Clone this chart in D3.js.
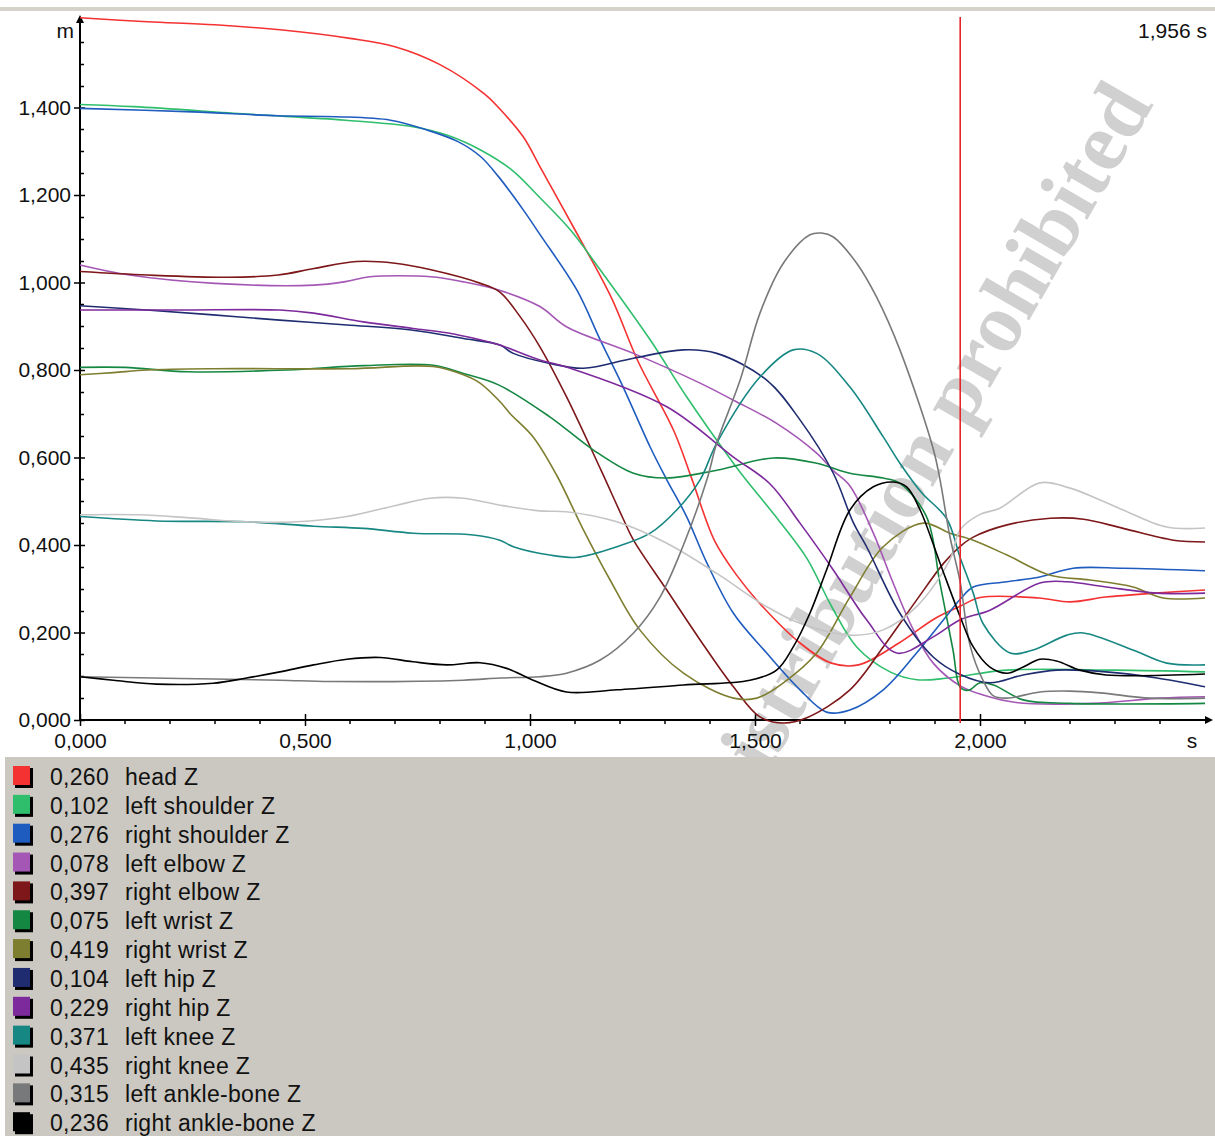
<!DOCTYPE html>
<html>
<head>
<meta charset="utf-8">
<script src="https://cdn.jsdelivr.net/npm/d3@7"></script>
<style>
body { margin: 0; background: #fff; }
svg { display: block; }
.tick text { font-family: "Liberation Sans", Arial, sans-serif; font-size: 21px; fill: #111; }
.tick line { stroke: #000; stroke-width: 1.5; }
.legend-text { font-family: "Liberation Sans", Arial, sans-serif; font-size: 23px; fill: #111; letter-spacing: 0.3px; }
</style>
</head>
<body>
<svg width="1215" height="1136"></svg>
<script>
var svg = d3.select("svg"),
    width = +svg.attr("width"),
    height = +svg.attr("height");

// series names, colours and value at the cursor (legend)
var seriesNames = ["head Z", "left shoulder Z", "right shoulder Z", "left elbow Z", "right elbow Z",
    "left wrist Z", "right wrist Z", "left hip Z", "right hip Z", "left knee Z", "right knee Z",
    "left ankle-bone Z", "right ankle-bone Z"];
var seriesColors = ["#f43232", "#2fbf6c", "#1f5cbf", "#a457b4", "#7d1719", "#148842", "#7e7e30",
    "#1f2c70", "#7d2a9c", "#168782", "#c4c4c4", "#78797b", "#000000"];
var cursorValues = [0.260, 0.102, 0.276, 0.078, 0.397, 0.075, 0.419, 0.104, 0.229, 0.371, 0.435, 0.315, 0.236];
var cursorTime = 1.956;

var yTicks = [0, 0.2, 0.4, 0.6, 0.8, 1.0, 1.2, 1.4];
var xTicks = [0, 0.5, 1.0, 1.5, 2.0];

// [time s, height m]
var headZ = [[0,1.605],[0.15,1.596],[0.3,1.589],[0.45,1.577],[0.6,1.558],[0.7,1.539],[0.8,1.498],[0.9,1.43],
    [0.93,1.40],[0.985,1.333],[1.022,1.265],[1.1,1.12],[1.18,0.967],[1.24,0.82],[1.32,0.66],[1.36,0.55],[1.41,0.41],
    [1.46,0.33],[1.51,0.267],[1.6,0.176],[1.67,0.13],[1.73,0.126],[1.82,0.176],[1.9,0.232],[1.956,0.26],
    [2.0,0.28],[2.13,0.279],[2.2,0.27],[2.28,0.281],[2.39,0.29],[2.5,0.297]];
var leftShoulderZ = [[0,1.407],[0.12,1.402],[0.37,1.385],[0.59,1.371],[0.74,1.356],[0.815,1.337],[0.89,1.303],
    [0.96,1.257],[1.02,1.196],[1.09,1.12],[1.156,1.029],[1.267,0.869],[1.348,0.739],[1.452,0.587],[1.48,0.549],
    [1.55,0.46],[1.615,0.37],[1.67,0.26],[1.726,0.167],[1.8,0.11],[1.86,0.092],[1.93,0.096],[2.06,0.114],
    [2.3,0.114],[2.5,0.11]];
var rightShoulderZ = [[0,1.398],[0.25,1.39],[0.44,1.381],[0.57,1.379],[0.69,1.371],[0.77,1.349],[0.84,1.322],
    [0.89,1.288],[0.93,1.242],[0.985,1.166],[1.022,1.11],[1.104,0.983],[1.156,0.869],[1.207,0.761],[1.267,0.624],
    [1.304,0.549],[1.348,0.465],[1.393,0.359],[1.452,0.244],[1.526,0.153],[1.6,0.069],[1.659,0.018],[1.711,0.023],
    [1.785,0.069],[1.859,0.153],[1.919,0.229],[1.956,0.276],[1.985,0.304],[2.06,0.316],[2.133,0.327],[2.207,0.347],
    [2.318,0.347],[2.5,0.341]];
var leftElbowZ = [[0,1.04],[0.11,1.017],[0.3,0.998],[0.52,0.994],[0.59,1.002],[0.644,1.013],[0.78,1.013],[0.85,1.002],
    [0.93,0.983],[1.022,0.945],[1.081,0.899],[1.23,0.838],[1.378,0.77],[1.452,0.731],[1.548,0.678],[1.637,0.61],
    [1.674,0.57],[1.711,0.535],[1.763,0.427],[1.807,0.313],[1.852,0.206],[1.896,0.13],[1.956,0.078],[2.007,0.057],
    [2.08,0.04],[2.25,0.038],[2.4,0.05],[2.5,0.053]];
var rightElbowZ = [[0,1.025],[0.15,1.017],[0.33,1.012],[0.44,1.017],[0.52,1.032],[0.615,1.048],[0.7,1.044],[0.78,1.029],
    [0.89,0.998],[0.933,0.978],[0.978,0.922],[1.022,0.853],[1.081,0.739],[1.156,0.575],[1.207,0.46],[1.23,0.411],
    [1.304,0.297],[1.378,0.183],[1.452,0.076],[1.511,0.007],[1.563,-0.007],[1.615,0.005],[1.711,0.069],[1.785,0.167],
    [1.859,0.274],[1.919,0.358],[1.956,0.397],[1.985,0.418],[2.06,0.446],[2.156,0.461],[2.23,0.459],[2.318,0.438],
    [2.43,0.411],[2.5,0.407]];
var leftWristZ = [[0,0.806],[0.1,0.806],[0.24,0.796],[0.46,0.8],[0.63,0.81],[0.785,0.811],[0.852,0.792],[0.93,0.766],
    [1.044,0.693],[1.141,0.617],[1.23,0.564],[1.304,0.553],[1.415,0.571],[1.541,0.599],[1.637,0.587],[1.711,0.564],
    [1.785,0.553],[1.822,0.541],[1.881,0.465],[1.911,0.313],[1.94,0.16],[1.956,0.075],[1.975,0.068],[2.0,0.085],
    [2.03,0.08],[2.096,0.046],[2.2,0.038],[2.5,0.038]];
var rightWristZ = [[0,0.789],[0.074,0.794],[0.15,0.8],[0.3,0.803],[0.6,0.803],[0.785,0.808],[0.852,0.789],[0.889,0.77],
    [0.933,0.728],[0.956,0.7],[1.007,0.647],[1.059,0.56],[1.119,0.434],[1.178,0.32],[1.244,0.206],[1.341,0.107],
    [1.452,0.05],[1.504,0.05],[1.563,0.085],[1.637,0.153],[1.711,0.281],[1.785,0.396],[1.874,0.45],[1.933,0.427],
    [1.985,0.411],[2.06,0.377],[2.156,0.331],[2.244,0.32],[2.34,0.304],[2.407,0.279],[2.5,0.279]];
var leftHipZ = [[0,0.947],[0.148,0.937],[0.296,0.926],[0.444,0.914],[0.593,0.903],[0.74,0.891],[0.852,0.872],[0.933,0.857],
    [0.963,0.838],[1.044,0.815],[1.119,0.804],[1.23,0.827],[1.341,0.846],[1.415,0.838],[1.526,0.777],[1.6,0.686],
    [1.674,0.564],[1.719,0.45],[1.748,0.396],[1.822,0.244],[1.896,0.144],[1.956,0.104],[2.022,0.085],[2.096,0.103],
    [2.17,0.114],[2.28,0.11],[2.393,0.096],[2.5,0.076]];
var rightHipZ = [[0,0.937],[0.22,0.937],[0.444,0.937],[0.519,0.93],[0.63,0.91],[0.74,0.895],[0.815,0.885],[0.889,0.869],
    [0.933,0.857],[1.022,0.823],[1.081,0.807],[1.304,0.716],[1.452,0.601],[1.533,0.54],[1.6,0.45],[1.674,0.343],
    [1.748,0.229],[1.815,0.153],[1.896,0.19],[1.956,0.229],[2.022,0.251],[2.133,0.313],[2.193,0.316],[2.28,0.304],
    [2.393,0.29],[2.5,0.29]];
var leftKneeZ = [[0,0.465],[0.17,0.455],[0.37,0.453],[0.52,0.443],[0.63,0.438],[0.74,0.427],[0.874,0.423],[0.933,0.411],
    [0.963,0.396],[1.044,0.377],[1.104,0.372],[1.193,0.396],[1.267,0.427],[1.326,0.48],[1.378,0.549],[1.415,0.633],
    [1.511,0.784],[1.585,0.846],[1.637,0.838],[1.711,0.761],[1.785,0.647],[1.822,0.587],[1.87,0.52],[1.926,0.46],
    [1.956,0.371],[1.985,0.29],[2.007,0.22],[2.067,0.153],[2.118,0.16],[2.193,0.194],[2.23,0.199],[2.34,0.16],
    [2.415,0.13],[2.5,0.126]];
var rightKneeZ = [[0,0.469],[0.133,0.469],[0.244,0.462],[0.37,0.453],[0.481,0.453],[0.593,0.465],[0.704,0.491],[0.778,0.507],
    [0.852,0.507],[0.94,0.49],[1.022,0.478],[1.081,0.476],[1.193,0.453],[1.304,0.404],[1.415,0.335],[1.526,0.259],
    [1.6,0.221],[1.711,0.194],[1.785,0.206],[1.859,0.259],[1.933,0.366],[1.956,0.435],[2.0,0.47],[2.044,0.484],
    [2.133,0.542],[2.2,0.53],[2.267,0.503],[2.318,0.48],[2.415,0.441],[2.5,0.439]];
var leftAnkleZ = [[0,0.099],[0.222,0.095],[0.444,0.091],[0.556,0.088],[0.852,0.091],[0.933,0.096],[1.022,0.099],[1.081,0.107],
    [1.156,0.137],[1.23,0.199],[1.289,0.281],[1.341,0.4],[1.393,0.549],[1.415,0.633],[1.467,0.777],[1.511,0.93],
    [1.563,1.044],[1.622,1.109],[1.648,1.113],[1.674,1.104],[1.726,1.044],[1.77,0.967],[1.822,0.846],[1.896,0.62],
    [1.911,0.55],[1.933,0.42],[1.956,0.315],[1.978,0.17],[2.007,0.09],[2.03,0.055],[2.06,0.05],[2.133,0.064],
    [2.2,0.066],[2.267,0.062],[2.378,0.05],[2.5,0.05]];
var rightAnkleZ = [[0,0.099],[0.074,0.091],[0.17,0.082],[0.296,0.084],[0.37,0.096],[0.444,0.11],[0.519,0.126],[0.593,0.139],
    [0.667,0.143],[0.74,0.133],[0.815,0.126],[0.889,0.131],[0.948,0.118],[1.007,0.091],[1.081,0.064],[1.193,0.069],
    [1.341,0.08],[1.489,0.091],[1.548,0.114],[1.585,0.167],[1.622,0.244],[1.659,0.343],[1.711,0.48],[1.763,0.533],
    [1.807,0.544],[1.837,0.533],[1.867,0.48],[1.911,0.359],[1.956,0.236],[1.985,0.167],[2.022,0.121],[2.06,0.107],
    [2.096,0.121],[2.133,0.139],[2.17,0.135],[2.222,0.114],[2.28,0.103],[2.5,0.105]];

var seriesData = [headZ, leftShoulderZ, rightShoulderZ, leftElbowZ, rightElbowZ, leftWristZ, rightWristZ,
    leftHipZ, rightHipZ, leftKneeZ, rightKneeZ, leftAnkleZ, rightAnkleZ];

var locale = d3.formatLocale({ decimal: ",", thousands: ".", grouping: [3], currency: ["", ""] });
var fmt = locale.format(".3f");

var x = d3.scaleLinear().domain([0, 2.5]).range([80, 1205]);
var y = d3.scaleLinear().domain([0, 1.6]).range([720, 20]);

// top strip + legend panel
svg.append("rect").attr("x", 0).attr("y", 7).attr("width", width).attr("height", 4).attr("fill", "#d5d2cb");
svg.append("rect").attr("x", 5).attr("y", 757).attr("width", width - 5).attr("height", height - 757).attr("fill", "#cbc8c1");

// watermark (under the lines), clipped to the plot area
svg.append("defs").append("clipPath").attr("id", "plotclip")
    .append("rect").attr("x", 0).attr("y", 12).attr("width", width).attr("height", 745);
svg.append("g").attr("clip-path", "url(#plotclip)")
  .append("text")
    .attr("transform", "translate(1154,104) rotate(-60)")
    .attr("text-anchor", "end")
    .style("font-family", "'Liberation Serif', 'DejaVu Serif', serif")
    .style("font-weight", "bold")
    .style("font-size", "84px")
    .attr("fill", "#d0d0d0")
    .text("Distribution prohibited");

// minor ticks
var minorY = d3.range(0, 1.601, 0.05).filter(function(v) { return Math.abs(v * 5 - Math.round(v * 5)) > 0.01; });
var minorX = d3.range(0, 2.501, 0.1).filter(function(v) { return Math.abs(v * 2 - Math.round(v * 2)) > 0.01; });

svg.append("g").selectAll("line").data(minorY).enter().append("line")
    .attr("x1", 79).attr("x2", 84)
    .attr("y1", function(d) { return Math.round(y(d)) + 0.5; })
    .attr("y2", function(d) { return Math.round(y(d)) + 0.5; })
    .attr("stroke", "#000").attr("stroke-width", 1.5);
svg.append("g").selectAll("line").data(minorX).enter().append("line")
    .attr("x1", function(d) { return x(d); })
    .attr("x2", function(d) { return x(d); })
    .attr("y1", 719).attr("y2", 724)
    .attr("stroke", "#000").attr("stroke-width", 1.5);

// axes
var yAxis = svg.append("g").attr("transform", "translate(80,0)")
    .call(d3.axisLeft(y).tickValues(yTicks).tickFormat(fmt).tickSize(6).tickPadding(3));
yAxis.select(".domain").remove();
yAxis.selectAll(".tick line").attr("x1", 5);

var xAxis = svg.append("g").attr("transform", "translate(0,720)")
    .call(d3.axisBottom(x).tickValues(xTicks).tickFormat(fmt).tickSize(6).tickPadding(7));
xAxis.select(".domain").remove();
xAxis.selectAll(".tick line").attr("y1", -6);

svg.append("line").attr("x1", 80).attr("x2", 80).attr("y1", 721).attr("y2", 20)
    .attr("stroke", "#000").attr("stroke-width", 2);
svg.append("path").attr("d", "M80,15 L76,23 L84,23 Z").attr("fill", "#000");
svg.append("line").attr("x1", 80).attr("x2", 1208).attr("y1", 720).attr("y2", 720)
    .attr("stroke", "#000").attr("stroke-width", 2);
svg.append("path").attr("d", "M1213,720 L1205,716 L1205,724 Z").attr("fill", "#000");

svg.append("text").attr("x", 74).attr("y", 38).attr("text-anchor", "end")
    .style("font-family", "'Liberation Sans', Arial, sans-serif").style("font-size", "21px").attr("fill", "#111")
    .text("m");
svg.append("text").attr("x", 1192).attr("y", 748).attr("text-anchor", "middle")
    .style("font-family", "'Liberation Sans', Arial, sans-serif").style("font-size", "21px").attr("fill", "#111")
    .text("s");
svg.append("text").attr("x", 1207).attr("y", 38).attr("text-anchor", "end")
    .style("font-family", "'Liberation Sans', Arial, sans-serif").style("font-size", "21px").attr("fill", "#111")
    .text(fmt(cursorTime) + " s");

// lines
var line = d3.line()
    .x(function(d) { return x(d[0]); })
    .y(function(d) { return y(d[1]); })
    .curve(d3.curveCatmullRom.alpha(0.5));

svg.append("g").selectAll("path").data(seriesData).enter().append("path")
    .attr("d", line)
    .attr("fill", "none")
    .attr("stroke", function(d, i) { return seriesColors[i]; })
    .attr("stroke-width", 1.6);

// cursor
svg.append("line").attr("x1", x(cursorTime)).attr("x2", x(cursorTime)).attr("y1", 17).attr("y2", 723)
    .attr("stroke", "#e8242a").attr("stroke-width", 1.6);

// legend
var rowH = 28.85;
var legend = svg.append("g").selectAll("g").data(seriesNames).enter().append("g")
    .attr("transform", function(d, i) { return "translate(0," + (766 + i * rowH) + ")"; });
legend.append("rect").attr("x", 15).attr("y", 2).attr("width", 18).attr("height", 20).attr("fill", "#000");
legend.append("rect").attr("x", 13).attr("y", 0).attr("width", 17).attr("height", 19)
    .attr("fill", function(d, i) { return seriesColors[i]; });
legend.append("text").attr("class", "legend-text").attr("x", 50).attr("y", 19)
    .text(function(d, i) { return fmt(cursorValues[i]); });
legend.append("text").attr("class", "legend-text").attr("x", 125).attr("y", 19)
    .text(function(d) { return d; });
</script>
</body>
</html>
